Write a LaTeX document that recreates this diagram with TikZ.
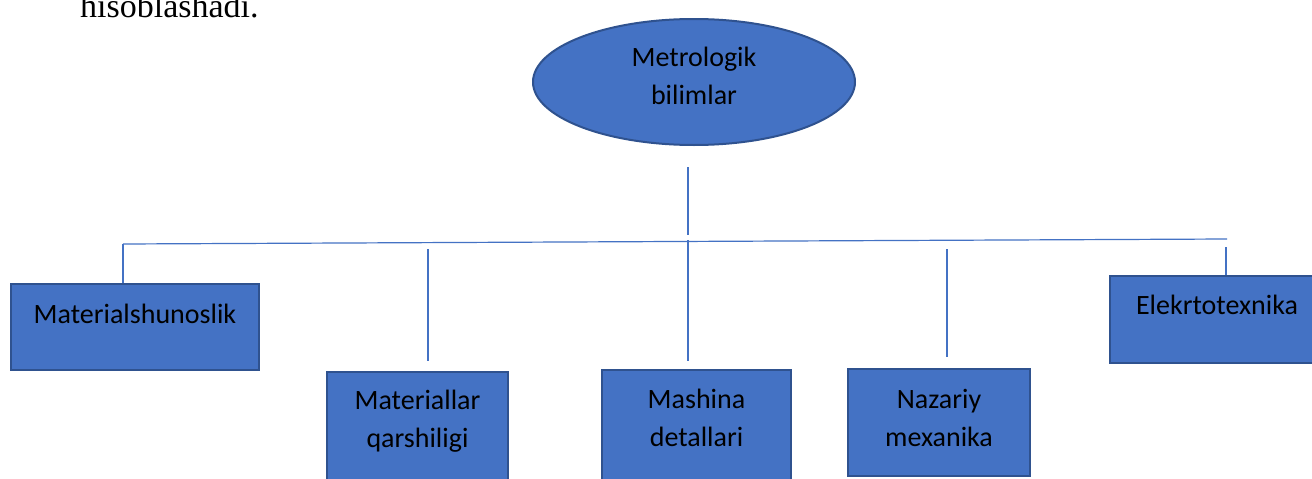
\documentclass[tikz,border=0pt]{standalone}
\usepackage{fontspec}
\setmainfont{Carlito}
\newfontfamily\serifx{Liberation Serif}
\usetikzlibrary{shapes.geometric}
\definecolor{ofblue}{HTML}{4472C4}
\definecolor{ofborder}{HTML}{2F528F}
\definecolor{lineblue}{HTML}{4472C4}
\begin{document}
\begin{tikzpicture}[x=1pt,y=-1pt,
  boxnode/.style={draw=ofborder, line width=2pt, fill=ofblue, rectangle,
    inner sep=0pt, anchor=north west, align=center,
    font=\fontsize{28}{38}\selectfont},
  rootnode/.style={ellipse, draw=ofborder, line width=2pt, fill=ofblue,
    minimum width=322pt, minimum height=126pt, inner sep=0pt, align=center,
    font=\fontsize{28}{37.5}\selectfont},
  conn/.style={draw=lineblue, line width=1.2pt},
  pagetext/.style={font=\serifx\fontsize{34}{40}\selectfont, inner sep=0pt, anchor=base west}]
\useasboundingbox (0,0) rectangle (1312,479);
\fill[white] (0,0) rectangle (1312,479);

\node[pagetext] (prev) at (80,17) {hisoblashadı.};

\node[rootnode, text height=60pt, text depth=16pt] (root) at (694,82) {Metrologik\\bilimlar};

\node[boxnode, minimum width=248pt, text height=39pt, text depth=47pt] (mat) at (10,283) {Materialshunoslik};
\node[boxnode, minimum width=181pt, text height=75pt, text depth=92pt] (mq) at (326,371) {Materiallar\\qarshiligi};
\node[boxnode, minimum width=189pt, text height=76pt, text depth=92pt] (md) at (601,369) {Mashina\\detallari};
\node[boxnode, minimum width=182pt, text height=77pt, text depth=30pt] (nm) at (847,368) {Nazariy\\mexanika};
\node[boxnode, minimum width=214pt, text height=38pt, text depth=49pt] (el) at (1109,275) {Elekrtotexnika};

\coordinate (hl) at (123,244);
\coordinate (hr) at (1227,239);
\coordinate (t0a) at (688,167);
\coordinate (t0b) at (688,235);
\coordinate (c2a) at (428,249);
\coordinate (c2b) at (428,361);
\coordinate (c3a) at (688,240);
\coordinate (c3b) at (688,361);
\coordinate (c4a) at (947,249);
\coordinate (c4b) at (947,357);
\coordinate (c5a) at (1226,247);

\draw[conn] (t0a) -- (t0b);
\draw[conn] (hl) -- (hr);
\draw[conn] (hl) -- (hl |- mat.north);
\draw[conn] (c2a) -- (c2b);
\draw[conn] (c3a) -- (c3b);
\draw[conn] (c4a) -- (c4b);
\draw[conn] (c5a) -- (c5a |- el.north);
\end{tikzpicture}
\end{document}
